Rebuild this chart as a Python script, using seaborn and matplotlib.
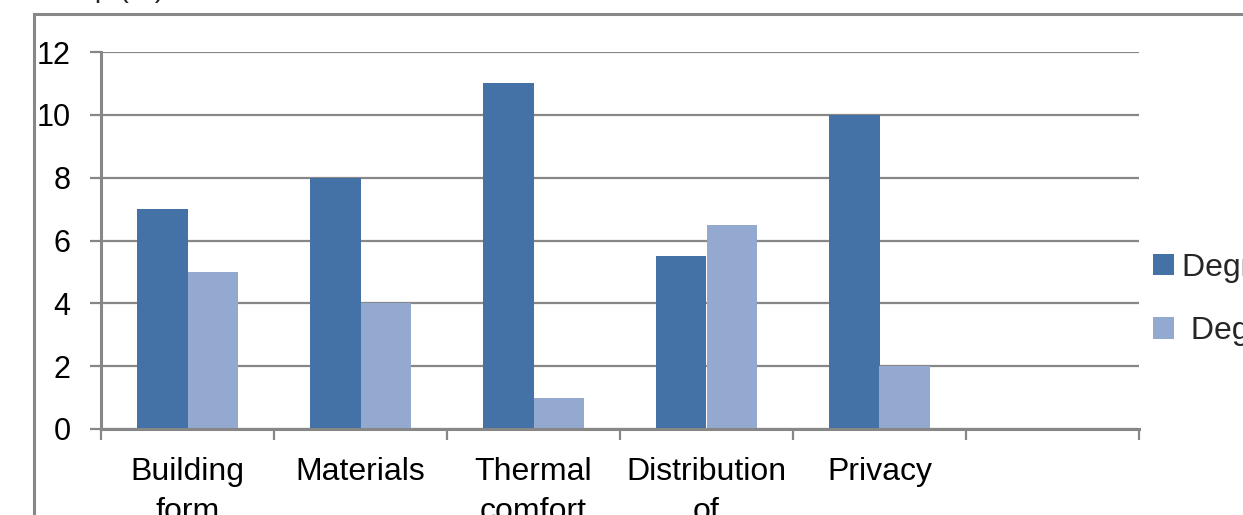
import matplotlib
matplotlib.use("Agg")
import matplotlib.pyplot as plt
import pandas as pd
import seaborn as sns
from matplotlib.patches import Rectangle

categories = ["Building\nform", "Materials", "Thermal\ncomfort", "Distribution\nof", "Privacy"]
series_names = ["Degree of importance", " Degree of satisfaction"]
series_a = [7, 8, 11, 5.5, 10]
series_b = [5, 4, 1, 6.5, 2]
y_ticks = [0, 2, 4, 6, 8, 10, 12]

df = pd.DataFrame({
    "category": categories * 2,
    "series": [series_names[0]] * len(categories) + [series_names[1]] * len(categories),
    "value": series_a + series_b,
})

sns.set_theme(style="white")
plt.rcParams["font.family"] = ["Liberation Sans", "DejaVu Sans"]

grey = "#878787"
fig = plt.figure(figsize=(12.43, 5.15), dpi=100)
ax = fig.add_axes([101 / 1243, 1 - 429 / 515, (1139 - 101) / 1243, (429 - 52) / 515])

sns.barplot(data=df, x="category", y="value", hue="series", order=categories,
            palette=["#4472A6", "#94A9D0"], width=0.58, saturation=1,
            edgecolor="none", ax=ax, legend=True)

ax.set_xlim(-0.5, 5.5)
ax.set_ylim(0, 12)
ax.set_yticks(y_ticks)
ax.set_yticklabels([str(t) for t in y_ticks], fontsize=22)
ax.yaxis.grid(True, color=grey, linewidth=1.6)
ax.set_axisbelow(True)
ax.set_xlabel("")
ax.set_ylabel("")

ax.set_xticks(range(len(categories)))
ax.set_xticklabels(categories, fontsize=23, linespacing=1.45)
ax.set_xticks([i - 0.5 for i in range(7)], minor=True)
ax.tick_params(axis="x", which="major", length=0, pad=20, colors="black")
ax.tick_params(axis="x", which="minor", bottom=True, length=8, width=1.6, color=grey)
ax.tick_params(axis="y", left=True, length=8, width=1.6, color=grey, pad=14, labelcolor="black")

for side in ["top", "right"]:
    ax.spines[side].set_visible(False)
ax.spines["left"].set_color(grey)
ax.spines["left"].set_linewidth(2.2)
ax.spines["bottom"].set_color(grey)
ax.spines["bottom"].set_linewidth(2.2)

ax.legend(loc="upper left", bbox_to_anchor=(1140 / 1243, 1 - 240 / 515),
          bbox_transform=fig.transFigure, frameon=False, fontsize=23,
          handlelength=0.65, handleheight=0.65, handletextpad=0.25,
          labelspacing=1.05, borderaxespad=0)

# outer chart frame, cropped in the source
fig.patches.append(Rectangle((34 / 1243, -0.2), 1.5, 1.2 - 14 / 515,
                             transform=fig.transFigure, fill=False,
                             edgecolor=grey, linewidth=2.2))
fig.text(30 / 1243, 1 + 3 / 515, "Group (%)", fontsize=21, va="baseline", ha="left")

fig.savefig("out.png", dpi=100)
